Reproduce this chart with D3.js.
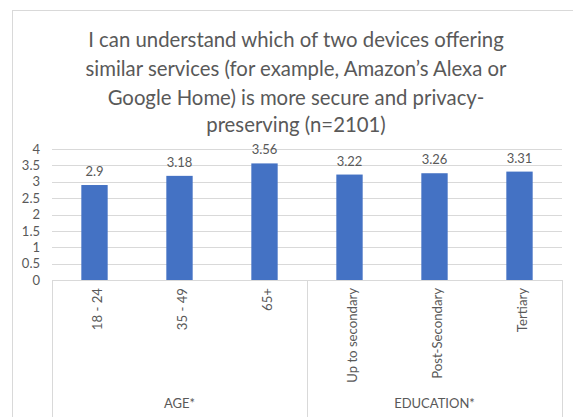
<!DOCTYPE html>
<html>
<head>
<meta charset="utf-8">
<script src="https://cdn.jsdelivr.net/npm/d3@7"></script>
<style>
  html, body { margin: 0; padding: 0; background: #ffffff; }
  svg { display: block; }
  text { font-family: Lato, "Open Sans", sans-serif; fill: #595959; }
</style>
</head>
<body>
<svg id="chart" width="573" height="417"></svg>
<script>
const titleLines = [
  "I can understand which of two devices offering",
  "similar services (for example, Amazon\u2019s Alexa or",
  "Google Home) is more secure and privacy-",
  "preserving (n=2101)"
];
const groups = ["AGE*", "EDUCATION*"];
const categories = ["18 - 24", "35 - 49", "65+", "Up to secondary", "Post-Secondary", "Tertiary"];
const categoryGroup = ["AGE*", "AGE*", "AGE*", "EDUCATION*", "EDUCATION*", "EDUCATION*"];
const values = [2.9, 3.18, 3.56, 3.22, 3.26, 3.31];
const yTicks = [0, 0.5, 1, 1.5, 2, 2.5, 3, 3.5, 4];

const svg = d3.select("#chart");
const W = 573, H = 417;
const plot = { left: 52, right: 562, top: 149, bottom: 280 };

// outer chart border
svg.append("rect")
  .attr("x", 12.5).attr("y", 10.5)
  .attr("width", 600).attr("height", 500)
  .attr("fill", "#ffffff").attr("stroke", "#d9d9d9").attr("stroke-width", 1);

// title
const title = svg.append("g");
const titleY = [39, 68, 96.5, 124];
const tl = title.selectAll("text").data(titleLines).join("text")
  .attr("x", 296)
  .attr("y", (d, i) => titleY[i])
  .attr("text-anchor", "middle")
  .attr("dominant-baseline", "central")
  .style("font-size", "20px")
  .text(d => d);
const w0 = tl.nodes()[0].getComputedTextLength();
tl.style("font-size", (20 * 416 / w0) + "px");

const x = d3.scaleBand().domain(categories).range([plot.left, plot.right]).paddingInner(0.69).paddingOuter(0.345);
const y = d3.scaleLinear().domain([0, 4]).range([plot.bottom, plot.top]);

// gridlines
svg.append("g").selectAll("line").data(yTicks).join("line")
  .attr("x1", plot.left).attr("x2", plot.right)
  .attr("y1", d => Math.round(y(d)) + 0.5).attr("y2", d => Math.round(y(d)) + 0.5)
  .attr("stroke", "#d9d9d9").attr("stroke-width", 1);

// y axis labels
const yAxis = d3.axisLeft(y).tickValues(yTicks).tickSize(0).tickPadding(0).tickFormat(d3.format("~g"));
const ya = svg.append("g").attr("transform", `translate(${plot.left - 12},0)`).call(yAxis);
ya.select(".domain").remove();
ya.selectAll("text").style("font-size", "13px").attr("fill", "#595959").style("font-family", "Lato, sans-serif");

// bars
svg.append("g").selectAll("rect").data(values).join("rect")
  .attr("x", (d, i) => x(categories[i]))
  .attr("width", x.bandwidth())
  .attr("y", d => y(d))
  .attr("height", d => y(0) - y(d))
  .attr("fill", "#4472c4");

// value labels
svg.append("g").selectAll("text").data(values).join("text")
  .attr("x", (d, i) => x(categories[i]) + x.bandwidth() / 2)
  .attr("y", d => y(d) - 14)
  .attr("text-anchor", "middle")
  .attr("dominant-baseline", "central")
  .style("font-size", "13px")
  .text(d => d);

// category axis lines
const sepX = [plot.left, x(categories[3]) - x.step() * x.paddingInner() / 2, plot.right];
svg.append("g").selectAll("line").data(sepX).join("line")
  .attr("x1", d => Math.round(d) + 0.5).attr("x2", d => Math.round(d) + 0.5)
  .attr("y1", plot.bottom).attr("y2", H)
  .attr("stroke", "#d9d9d9").attr("stroke-width", 1);

// category labels (rotated)
const cl = svg.append("g").selectAll("text").data(categories).join("text")
  .attr("transform", d => `translate(${x(d) + x.bandwidth() / 2 + 2},288) rotate(-90)`)
  .attr("text-anchor", "end")
  .attr("dominant-baseline", "central")
  .style("font-size", "13px")
  .text(d => d);
const w3 = cl.nodes()[3].getComputedTextLength();
cl.style("font-size", Math.min(15, 13 * 95 / w3) + "px");

// group labels
svg.append("g").selectAll("text").data(groups).join("text")
  .attr("x", g => {
    const cats = categories.filter((c, i) => categoryGroup[i] === g);
    return (x(cats[0]) - x.step() * x.paddingInner() / 2 + x(cats[cats.length - 1]) + x.bandwidth() + x.step() * x.paddingInner() / 2) / 2;
  })
  .attr("y", 403)
  .attr("text-anchor", "middle")
  .attr("dominant-baseline", "central")
  .style("font-size", "13px")
  .text(d => d);
</script>
</body>
</html>
